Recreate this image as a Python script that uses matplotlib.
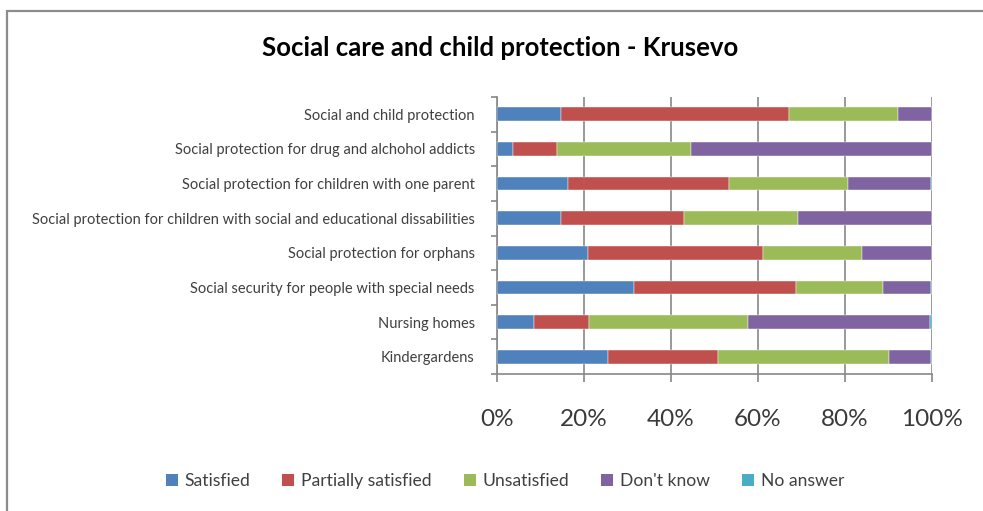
import matplotlib
matplotlib.use("Agg")
import matplotlib.pyplot as plt
from matplotlib.patches import Rectangle, Patch

# Survey answers per service, share of respondents (%)
services = [
    "Social and child protection",
    "Social protection for drug and alchohol addicts",
    "Social protection for children with one parent",
    "Social protection for children with social and educational dissabilities",
    "Social protection for orphans",
    "Social security for people with special needs",
    "Nursing homes",
    "Kindergardens",
]
answers = ["Satisfied", "Partially satisfied", "Unsatisfied", "Don't know", "No answer"]

satisfied = [14.7, 3.7, 16.3, 14.7, 20.9, 31.4, 8.5, 25.5]
partially = [52.4, 10.0, 37.1, 28.2, 40.2, 37.3, 12.6, 25.2]
unsatisfied = [25.0, 30.8, 27.4, 26.4, 22.7, 20.0, 36.5, 39.5]
dont_know = [7.9, 55.5, 18.9, 30.7, 16.2, 11.0, 41.9, 9.5]
no_answer = [0.0, 0.0, 0.3, 0.0, 0.0, 0.3, 0.5, 0.3]

colors = ["#4F81BD", "#C0504D", "#9BBB59", "#8064A2", "#4BACC6"]
GRID = "#888888"
TEXT = "#404040"

plt.rcParams["font.family"] = ["Lato", "DejaVu Sans"]

fig = plt.figure(figsize=(9.83, 5.11), dpi=100)
ax = fig.add_axes([497 / 983, 1 - 374 / 511, 435 / 983, 277 / 511])

series = [satisfied, partially, unsatisfied, dont_know, no_answer]
ypos = list(range(len(services)))
left = [0.0] * len(services)
for vals, col in zip(series, colors):
    widths = [v / 100 for v in vals]
    ax.barh(ypos, widths, left=left, height=0.4, color=col,
            edgecolor="white", linewidth=0.3, zorder=3)
    left = [l + w for l, w in zip(left, widths)]

ax.set_xlim(0, 1)
ax.set_ylim(len(services) - 0.5, -0.5)

ax.set_xticks([0, 0.2, 0.4, 0.6, 0.8, 1.0])
ax.set_xticklabels(["0%", "20%", "40%", "60%", "80%", "100%"])
ax.tick_params(axis="x", length=6, width=1.2, color=GRID, pad=19,
               labelsize=17.5, labelcolor="#3a3a3a")
ax.xaxis.grid(True, color=GRID, linewidth=1.2, zorder=0)

ax.set_yticks(ypos)
ax.set_yticklabels(services)
ax.set_yticks([y - 0.5 for y in ypos] + [len(services) - 0.5], minor=True)
ax.tick_params(axis="y", which="major", length=0, pad=16,
               labelsize=10.55, labelcolor=TEXT)
ax.tick_params(axis="y", which="minor", length=4, width=1.2, color=GRID)

for side in ["top", "right"]:
    ax.spines[side].set_visible(False)
for side in ["left", "bottom"]:
    ax.spines[side].set_color(GRID)
    ax.spines[side].set_linewidth(1.2)
ax.set_axisbelow(True)

fig.text(500 / 983, 1 - 48 / 511, "Social care and child protection - Krusevo",
         ha="center", va="center", fontsize=18.5, fontweight="bold", color="black")

handles = [Patch(facecolor=c, edgecolor="none") for c in colors]
fig.legend(handles, answers, loc="center", bbox_to_anchor=(505 / 983, 1 - 481 / 511),
           ncol=5, frameon=False, fontsize=12.6, labelcolor=TEXT,
           handlelength=0.7, handleheight=0.7, handletextpad=0.4,
           columnspacing=1.8)

# chart frame, open to the right and bottom
fig.patches.append(Rectangle((7 / 983, -0.2), 2, 1.2 - 10.5 / 511,
                             transform=fig.transFigure, fill=False,
                             edgecolor="#8c8c8c", linewidth=1.6))

fig.savefig("out.png", dpi=100)
